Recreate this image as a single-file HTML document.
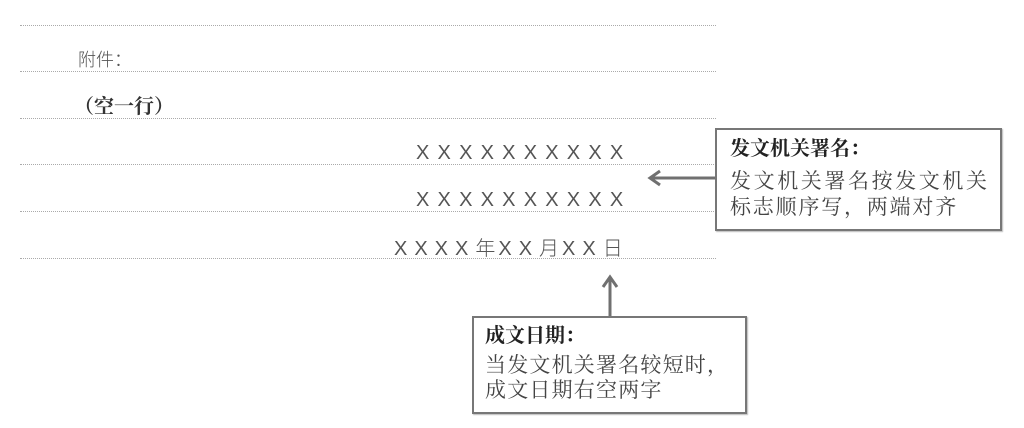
<!DOCTYPE html>
<html><head><meta charset="utf-8"><style>
body{margin:0;width:1024px;height:428px;background:#fff;position:relative;overflow:hidden;font-family:"Liberation Serif","Noto Serif CJK SC","Noto Sans CJK SC",serif;color:#333}
.l{position:absolute;left:20px;width:696px;border-top:1px dotted #aaa;height:0}
.t{position:absolute;white-space:nowrap;line-height:1}
.x{font-family:"Liberation Sans","Noto Sans CJK SC",sans-serif;color:#555;font-size:20px}
.c{font-family:'Noto Sans CJK SC',sans-serif;font-weight:300;font-size:20px}
.box{position:absolute;border:2px solid #777;background:#fff;box-sizing:border-box;box-shadow:1px 1px 1px #bbb}
</style></head><body>
<div class="l" style="top:25px"></div>
<div class="l" style="top:71px"></div>
<div class="l" style="top:118px"></div>
<div class="l" style="top:164px"></div>
<div class="l" style="top:211px"></div>
<div class="l" style="top:258px"></div>
<div class="t" style="left:78px;top:50px;font-size:18px;color:#555;font-family:'Noto Sans CJK SC',sans-serif;font-weight:300">附件：</div>
<div class="t" style="left:74px;top:97px;font-size:20px;font-weight:bold;color:#333">（空一行）</div>
<div class="t x" style="left:416px;top:143px;letter-spacing:8.2px">XXXXXXXXXX</div>
<div class="t x" style="left:416px;top:190px;letter-spacing:8.2px">XXXXXXXXXX</div>
<div class="t x" style="left:394px;top:237px;letter-spacing:7px">XXXX<span class="c" style="letter-spacing:3px">年</span>XX<span class="c" style="letter-spacing:3px">月</span>XX<span class="c">日</span></div>
<svg style="position:absolute;left:0;top:0" width="1024" height="428">
<g stroke="#707070" stroke-width="3" fill="none">
<line x1="716" y1="178" x2="650" y2="178"/>
<polyline points="660,171 650,178 660,185"/>
<line x1="610" y1="317" x2="610" y2="277"/>
<polyline points="603,287 610,277 617,287"/>
</g></svg>
<div class="box" style="left:715px;top:128px;width:287px;height:103px"></div>
<div class="t" style="left:730px;top:139px;font-size:20px;font-weight:bold;color:#222">发文机关署名：</div>
<div class="t" style="left:730px;top:171px;font-size:21px;letter-spacing:2.6px;color:#444">发文机关署名按发文机关</div>
<div class="t" style="left:730px;top:197px;font-size:21px;letter-spacing:1.8px;color:#444">标志顺序写，两端对齐</div>
<div class="box" style="left:472px;top:316px;width:275px;height:98px"></div>
<div class="t" style="left:485px;top:326px;font-size:20px;font-weight:bold;color:#222">成文日期：</div>
<div class="t" style="left:485px;top:355px;font-size:21px;letter-spacing:1.2px;color:#444">当发文机关署名较短时，</div>
<div class="t" style="left:485px;top:380px;font-size:21px;letter-spacing:1.2px;color:#444">成文日期右空两字</div>
</body></html>
